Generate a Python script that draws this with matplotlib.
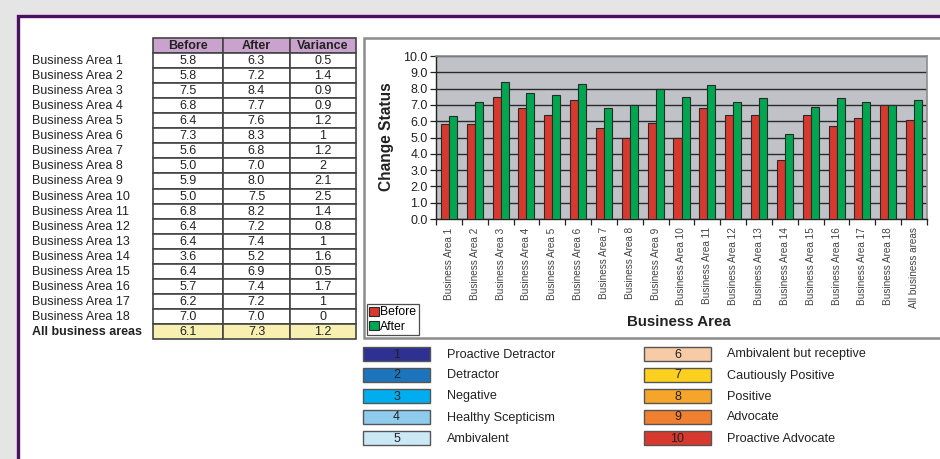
import numpy as np
import matplotlib
matplotlib.use("Agg")
import matplotlib.pyplot as plt
from matplotlib.patches import Rectangle

plt.rcParams['font.family'] = ['Liberation Sans', 'DejaVu Sans']

# ---- data ----
areas = [f"Business Area {i}" for i in range(1, 19)] + ["All business areas"]
before = [5.8, 5.8, 7.5, 6.8, 6.4, 7.3, 5.6, 5.0, 5.9, 5.0, 6.8, 6.4, 6.4, 3.6, 6.4, 5.7, 6.2, 7.0, 6.1]
after = [6.3, 7.2, 8.4, 7.7, 7.6, 8.3, 6.8, 7.0, 8.0, 7.5, 8.2, 7.2, 7.4, 5.2, 6.9, 7.4, 7.2, 7.0, 7.3]
variance = ["0.5", "1.4", "0.9", "0.9", "1.2", "1", "1.2", "2", "2.1", "2.5",
            "1.4", "0.8", "1", "1.6", "0.5", "1.7", "1", "0", "1.2"]
table_cols = ["Before", "After", "Variance"]

scale_levels = [str(i) for i in range(1, 11)]
scale_names = ["Proactive Detractor", "Detractor", "Negative", "Healthy Scepticism", "Ambivalent",
               "Ambivalent but receptive", "Cautiously Positive", "Positive", "Advocate", "Proactive Advocate"]
scale_colors = ["#2e3192", "#1c75bc", "#00aeef", "#8fcbed", "#cbe9f5",
                "#f6cba6", "#fdd01f", "#f5a52a", "#f07f2f", "#d7392e"]

RED = "#d7392e"
GREEN = "#00a650"

W, H = 940, 459
fig = plt.figure(figsize=(W / 100, H / 100), dpi=100)
fig.patch.set_facecolor("#e5e5e5")

# background canvas in pixel coordinates
bg = fig.add_axes([0, 0, 1, 1])
bg.set_xlim(0, W)
bg.set_ylim(H, 0)
bg.axis("off")

# white panel with purple frame
bg.add_patch(Rectangle((17.5, 15.5), 1000, 1000, facecolor="white", edgecolor="#4b1060", lw=2.4))

# ---- data table ----
TFS = 9.0
col_edges = [153, 223, 290, 356]
top, row_h = 38, 15.05
n_rows = len(areas)
# header
for j, name in enumerate(table_cols):
    bg.add_patch(Rectangle((col_edges[j], top), col_edges[j + 1] - col_edges[j], row_h,
                           facecolor="#c9a3cd", edgecolor="#444444", lw=1.2))
    bg.text((col_edges[j] + col_edges[j + 1]) / 2, top + row_h / 2 + 0.5, name,
            ha="center", va="center", fontsize=TFS, fontweight="bold", color="#222222")
for i in range(n_rows):
    y0 = top + row_h * (i + 1)
    last = i == n_rows - 1
    fill = "#f7f0b0" if last else "white"
    vals = [f"{before[i]:.1f}", f"{after[i]:.1f}", variance[i]]
    for j in range(3):
        bg.add_patch(Rectangle((col_edges[j], y0), col_edges[j + 1] - col_edges[j], row_h,
                               facecolor=fill, edgecolor="#444444", lw=1.2))
        bg.text((col_edges[j] + col_edges[j + 1]) / 2, y0 + row_h / 2 + 0.5, vals[j],
                ha="center", va="center", fontsize=TFS, color="#222222")
    bg.text(32, y0 + row_h / 2 + 0.5, areas[i], ha="left", va="center", fontsize=TFS,
            color="#222222", fontweight="bold" if last else "normal")

# ---- chart frame ----
bg.add_patch(Rectangle((363.5, 37.5), 700, 300, facecolor="white", edgecolor="#8c8c8c", lw=1.8))
bg.text(387, 137, "Change Status", rotation=90, ha="center", va="center",
        fontsize=11.2, fontweight="bold", color="#222222")
bg.text(679, 322, "Business Area", ha="center", va="center",
        fontsize=10.8, fontweight="bold", color="#222222")

# ---- bar chart ----
ax = fig.add_axes([436 / W, 1 - 219 / H, 491 / W, 163 / H])
ax.set_facecolor("#c0c2c8")
x = np.arange(len(areas))
bw = 0.31
b1 = ax.bar(x - bw / 2, before, bw, color=RED, edgecolor="#2a2a2a", lw=0.8, label="Before", zorder=3)
b2 = ax.bar(x + bw / 2, after, bw, color=GREEN, edgecolor="#2a2a2a", lw=0.8, label="After", zorder=3)
ax.set_xlim(-0.5, len(areas) - 0.5)
ax.set_ylim(0, 10)
ax.set_yticks(np.arange(0, 10.5, 1.0))
ax.set_yticklabels([f"{v:.1f}" for v in np.arange(0, 10.5, 1.0)], fontsize=9, color="#222222")
ax.yaxis.grid(True, color="#2a2a2a", lw=1.0, zorder=1)
ax.set_axisbelow(True)
ax.set_xticks(x)
ax.set_xticklabels(areas, rotation=90, fontsize=7.2, color="#444444", va="top")
ax.set_xticks(np.arange(-0.5, len(areas)), minor=True)
ax.tick_params(axis="x", which="major", length=0, pad=6)
ax.tick_params(axis="x", which="minor", length=4, width=0.9, color="#222222", direction="out")
ax.tick_params(axis="y", length=4, width=0.9, color="#222222", pad=2)
for s in ["left", "bottom"]:
    ax.spines[s].set_color("#222222")
    ax.spines[s].set_linewidth(1.0)
for s in ["top", "right"]:
    ax.spines[s].set_color("#8c8c8c")
    ax.spines[s].set_linewidth(1.2)

leg = fig.legend(handles=[b1, b2], loc="upper left", bbox_to_anchor=(367 / W, 1 - 304 / H),
                 fontsize=8.8, frameon=True, fancybox=False, edgecolor="#222222",
                 borderpad=0.2, handlelength=0.75, handleheight=0.75, handletextpad=0.15,
                 labelspacing=0.2, borderaxespad=0)
leg.get_frame().set_linewidth(0.9)

# ---- scale key ----
key_cols = [(363, 447), (644, 727)]
key_rows = [347, 368, 389, 410, 431]
for k in range(10):
    c = k // 5
    r = k % 5
    bx, tx = key_cols[c]
    y0 = key_rows[r]
    bg.add_patch(Rectangle((bx, y0), 67, 14, facecolor=scale_colors[k], edgecolor="#555555", lw=1.0))
    bg.text(bx + 33.5, y0 + 7.5, scale_levels[k], ha="center", va="center", fontsize=9,
            color="#222222")
    bg.text(tx, y0 + 7.5, scale_names[k], ha="left", va="center", fontsize=9.1, color="#222222")

fig.savefig("out.png", dpi=100, facecolor=fig.get_facecolor())
